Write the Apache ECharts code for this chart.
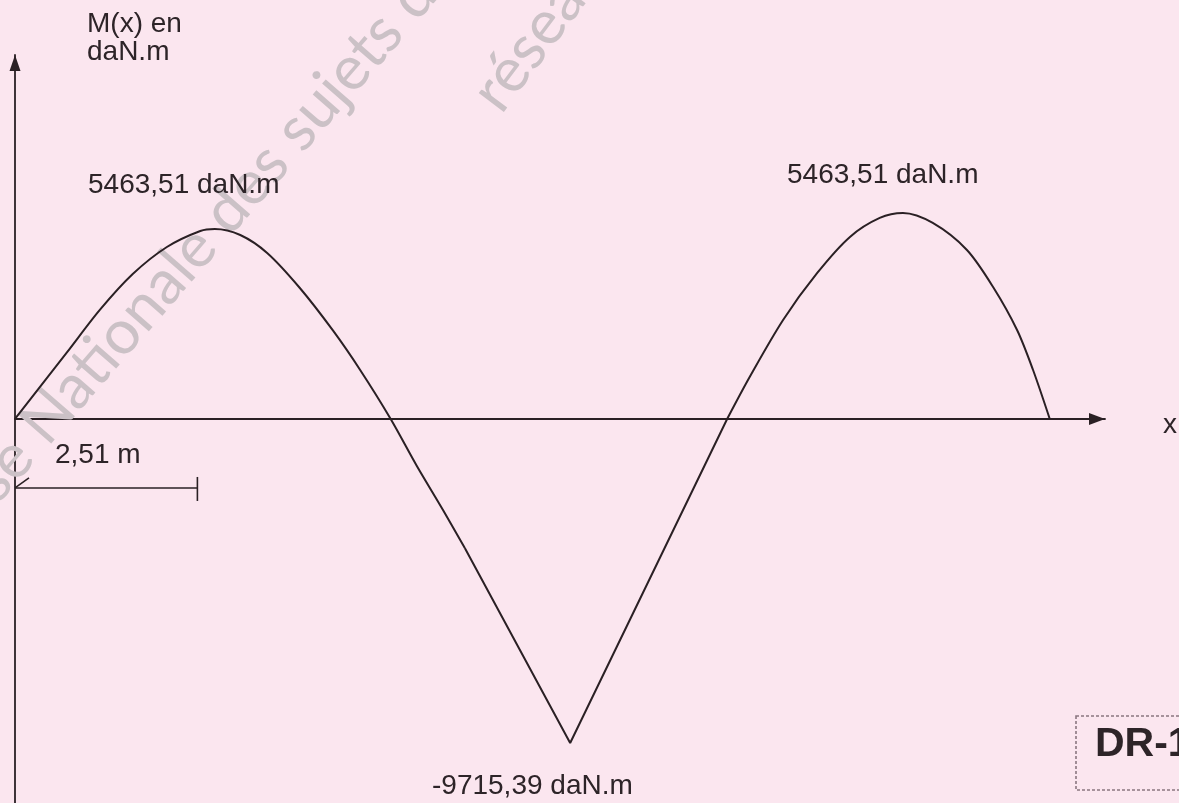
<!DOCTYPE html>
<html>
<head>
<meta charset="utf-8">
<title>M(x) en daN.m</title>
<script src="https://cdn.jsdelivr.net/npm/echarts@6/dist/echarts.min.js"></script>
<style>
  html, body { margin: 0; padding: 0; background: #fbe6ef; }
  #chart { width: 1179px; height: 803px; }
</style>
</head>
<body>
<div id="chart"></div>
<script>
// abscisses (m) et moments (daN.m)
const xArc1 = [0, 0.72, 1.17, 1.62, 2.09, 2.55, 2.75, 3.10, 3.47, 3.92, 4.38, 4.75, 5.17, 5.53, 5.89, 6.19]
const mArc1 = [0, 1940, 3160, 4190, 4971, 5434, 5492, 5318, 4798, 3786, 2544, 1416, 0, -1358, -2630, -3729]
const xPointe = [6.19, 7.64, 9.80]
const mPointe = [-3729, -9365, 0]
const xArc2 = [9.80, 10.11, 10.57, 11.04, 11.49, 11.90, 12.22, 12.63, 13.10, 13.46, 13.79, 14.01, 14.24]
const mArc2 = [0, 1214, 2862, 4220, 5261, 5810, 5954, 5665, 4885, 3815, 2572, 1416, 0]

// textes du document
const valeurs = ['5463,51 daN.m', '-9715,39 daN.m', '5463,51 daN.m']
const cote = [2.51] // m
const titreAxe = ['M(x) en', 'daN.m']

const ink = '#2a2024'
const font = '28px "Liberation Sans", Arial, sans-serif'

const pairs = (xs, ys) => xs.map((x, i) => [x, ys[i]])

const axisBase = {
  type: 'value',
  axisTick: { show: false },
  axisLabel: { show: false },
  splitLine: { show: false }
}

const chart = echarts.init(document.getElementById('chart'))

function txt(text, x, y, f) {
  return {
    type: 'text', x: x, y: y, z: 10,
    style: { text: text, font: f || font, fill: '#2d2428', align: 'left', verticalAlign: 'middle',
      textAlign: 'left', textVerticalAlign: 'middle' }
  }
}

function filigrane(text, x, y, deg) {
  return {
    type: 'text', x: x, y: y, rotation: deg * Math.PI / 180, z: 1, silent: true,
    style: { text: text, font: '62px Lato, sans-serif', fill: '#cbc1c6',
      align: 'left', verticalAlign: 'bottom', textAlign: 'left', textVerticalAlign: 'bottom' }
  }
}

chart.setOption({
  backgroundColor: '#fbe6ef',
  animation: false,
  grid: { left: 15, right: 74, top: 55, bottom: 0 },
  xAxis: Object.assign({}, axisBase, {
    min: 0, max: 15,
    axisLine: {
      onZero: true,
      lineStyle: { color: ink, width: 1.8 },
      symbol: ['none', 'triangle'], symbolSize: [12, 16], symbolOffset: [0, -8]
    }
  }),
  yAxis: Object.assign({}, axisBase, {
    min: -11100, max: 10520,
    axisLine: {
      onZero: true,
      lineStyle: { color: ink, width: 1.8 },
      symbol: ['none', 'triangle'], symbolSize: [11, 16], symbolOffset: [0, -8]
    }
  }),
  graphic: [
    filigrane("Base Nationale des sujets d'Examens", -40, 565, 49),
    filigrane('réseau Canopé', 510, 122, 53),
    txt(titreAxe[0], 87, 24),
    txt(titreAxe[1], 87, 52),
    txt(valeurs[0], 88, 185),
    txt(valeurs[1], 432, 786),
    txt(valeurs[2], 787, 175),
    txt('x', 1163, 425),
    {
      type: 'rect', z: 10,
      shape: { x: 1076, y: 716, width: 140, height: 74 },
      style: { fill: 'none', stroke: '#8a7780', lineWidth: 1.6, lineDash: [3, 2] }
    },
    txt('DR-1', 1095, 745, 'bold 41px "Liberation Sans", Arial, sans-serif')
  ],
  series: [
    {
      type: 'line', data: pairs(xArc1, mArc1), smooth: 0.3, symbol: 'none',
      lineStyle: { color: ink, width: 2 }
    },
    {
      type: 'line', data: pairs(xPointe, mPointe), symbol: 'none',
      lineStyle: { color: ink, width: 2 }
    },
    {
      type: 'line', data: pairs(xArc2, mArc2), smooth: 0.3, symbol: 'none',
      lineStyle: { color: ink, width: 2 }
    },
    {
      // cote 2,51 m sous l'axe
      type: 'custom', data: cote.map(v => [v]), silent: true,
      renderItem(params, api) {
        const a = api.coord([0, 0])
        const b = api.coord([api.value(0), 0])
        const y = a[1] + 69
        const st = { stroke: ink, lineWidth: 1.6 }
        return {
          type: 'group',
          children: [
            { type: 'line', shape: { x1: a[0], y1: y, x2: b[0], y2: y }, style: st },
            { type: 'line', shape: { x1: b[0], y1: y - 11, x2: b[0], y2: y + 13 }, style: st },
            { type: 'line', shape: { x1: a[0], y1: y, x2: a[0] + 14, y2: y - 10 }, style: st },
            {
              type: 'text', x: a[0] + 40, y: y - 33,
              style: { text: String(api.value(0)).replace('.', ',') + ' m', font: font, fill: '#2d2428',
                align: 'left', verticalAlign: 'middle', textAlign: 'left', textVerticalAlign: 'middle' }
            }
          ]
        }
      }
    }
  ]
})
</script>
</body>
</html>
